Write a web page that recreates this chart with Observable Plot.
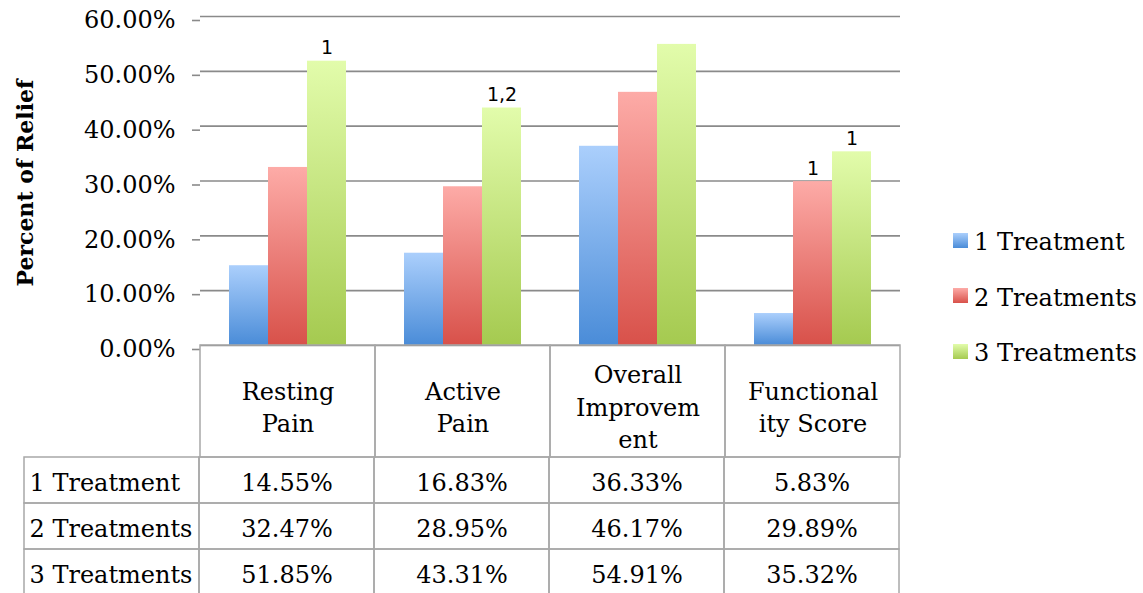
<!DOCTYPE html>
<html><head><meta charset="utf-8">
<script src="https://cdn.jsdelivr.net/npm/d3@7"></script>
<script src="https://cdn.jsdelivr.net/npm/@observablehq/plot@0.6"></script>
<style>
html,body{margin:0;padding:0;overflow:hidden;background:#fff;}
#wrap{position:relative;width:1143px;height:593px;overflow:hidden;}
#wrap svg{position:absolute;left:0;margin:0;overflow:visible;max-width:none;}
.legend{position:absolute;left:953px;top:228px;font-family:"DejaVu Serif";font-size:24px;color:#000;}
.legend .item{display:flex;align-items:center;height:28px;margin-bottom:27.5px;white-space:nowrap;}
.legend .sw{width:15px;height:15px;margin-right:6px;margin-top:-4px;}
</style></head><body><div id="wrap"></div>
<script>
// ---- data ----
const categories = ["Resting Pain", "Active Pain", "Overall Improvement", "Functionality Score"];
const headerLabels = ["Resting\nPain", "Active\nPain", "Overall\nImprovem\nent", "Functional\nity Score"];
const series = ["1 Treatment", "2 Treatments", "3 Treatments"];
const oneTreatment = [14.55, 16.83, 36.33, 5.83];
const twoTreatments = [32.47, 28.95, 46.17, 29.89];
const threeTreatments = [51.85, 43.31, 54.91, 35.32];
const yTicks = [0, 10, 20, 30, 40, 50, 60];
const markCategories = ["Resting Pain", "Active Pain", "Functionality Score", "Functionality Score"];
const markSeries = ["3 Treatments", "3 Treatments", "2 Treatments", "3 Treatments"];
const markTexts = ["1", "1,2", "1", "1"];
const yLabel = "Percent of Relief";
const labelColumn = "label";

// ---- styles ----
const topColors = ["#abcffc", "#fdaba7", "#e2fcab"];
const bottomColors = ["#4a8cd8", "#d8514a", "#a5ca50"];
const gridColor = "#8a8a8a";
const tableColor = "#a8a8a8";

const values = [oneTreatment, twoTreatments, threeTreatments];
const rows = series.flatMap((s, i) => categories.map((c, j) => ({category: c, series: s, value: values[i][j]})));
const annotations = markTexts.map((t, k) => {
  const si = series.indexOf(markSeries[k]);
  const ci = categories.indexOf(markCategories[k]);
  return {category: markCategories[k], series: markSeries[k], text: t, value: values[si][ci]};
});
const fmt = v => v.toFixed(2) + "%";
const W = 1143;
const baseStyle = {fontFamily: "DejaVu Serif", fontSize: "24px", color: "#000", background: "transparent", overflow: "visible"};
const wrap = document.getElementById("wrap");

// ---- bar chart ----
const chart = Plot.plot({
  width: W, height: 347, marginTop: 16, marginBottom: 2, marginLeft: 198, marginRight: 242,
  style: baseStyle,
  fx: {domain: categories, padding: 0, axis: null, label: null},
  x: {domain: series, paddingInner: 0, paddingOuter: 0.7, axis: null},
  y: {domain: [0, 60]},
  marks: [
    Plot.gridY(yTicks, {stroke: gridColor, strokeOpacity: 1, strokeWidth: 1.6}),
    Plot.axisY(yTicks, {facetAnchor: "left", tickSize: 8, tickPadding: 17, tickFormat: fmt, stroke: gridColor, strokeWidth: 1.6, label: null, dy: 4, fontSize: 24}),
    ...series.map((s, i) => Plot.barY(rows.filter(d => d.series === s), {fx: "category", x: "series", y: "value", fill: `url(#grad${i})`})),
    Plot.text(annotations, {fx: "category", x: "series", y: "value", text: "text", lineAnchor: "bottom", dy: -7, fontFamily: "DejaVu Sans", fontSize: 19}),
    Plot.text([yLabel], {facetAnchor: "left", frameAnchor: "left", textAnchor: "middle", text: d => d, rotate: -90, dx: -175, dy: 2, fontWeight: "bold", fontSize: 22})
  ]
});
const defs = d3.create("svg:defs");
series.forEach((s, i) => {
  const g = defs.append("linearGradient").attr("id", `grad${i}`).attr("x1", 0).attr("y1", 0).attr("x2", 0).attr("y2", 1);
  g.append("stop").attr("offset", "0%").attr("stop-color", topColors[i]);
  g.append("stop").attr("offset", "100%").attr("stop-color", bottomColors[i]);
});
chart.insertBefore(defs.node(), chart.firstChild);
chart.style.top = "0px";
wrap.appendChild(chart);

// ---- table header ----
const header = Plot.plot({
  width: W, height: 114, marginTop: 1, marginBottom: 1, marginLeft: 198, marginRight: 242,
  style: baseStyle,
  x: {domain: categories, padding: 0, axis: null},
  marks: [
    Plot.cell(categories, {x: d => d, fill: "none", stroke: tableColor, strokeWidth: 1.5, inset: 0}),
    Plot.text(categories, {x: d => d, text: (d, i) => headerLabels[i], frameAnchor: "middle", lineHeight: 1.35, dy: 4, fontSize: 24})
  ]
});
header.style.top = "344px";
wrap.appendChild(header);

// ---- table body ----
const colKeys = [labelColumn, ...categories];
const cellsAll = series.flatMap(s => colKeys.map(c => ({col: c, series: s})));
const body = Plot.plot({
  width: W, height: 140, marginTop: 1, marginBottom: 1, marginLeft: 22, marginRight: 242,
  style: baseStyle,
  x: {domain: colKeys, padding: 0, axis: null},
  y: {domain: series, padding: 0, axis: null},
  marks: [
    Plot.cell(cellsAll, {x: "col", y: "series", fill: "none", stroke: tableColor, strokeWidth: 1.5, inset: 0}),
    Plot.text(series, {y: d => d, text: d => d, frameAnchor: "left", textAnchor: "start", dx: 7, dy: 3, fontSize: 24}),
    Plot.text(rows, {x: "category", y: "series", text: d => fmt(d.value), dy: 3, fontSize: 24})
  ]
});
body.style.top = "456px";
wrap.appendChild(body);

// ---- legend ----
const legend = document.createElement("div");
legend.className = "legend";
series.forEach((s, i) => {
  const item = document.createElement("div");
  item.className = "item";
  const sw = document.createElement("span");
  sw.className = "sw";
  sw.style.background = `linear-gradient(${topColors[i]}, ${bottomColors[i]})`;
  const lab = document.createElement("span");
  lab.textContent = s;
  item.appendChild(sw); item.appendChild(lab);
  legend.appendChild(item);
});
wrap.appendChild(legend);
</script></body></html>
